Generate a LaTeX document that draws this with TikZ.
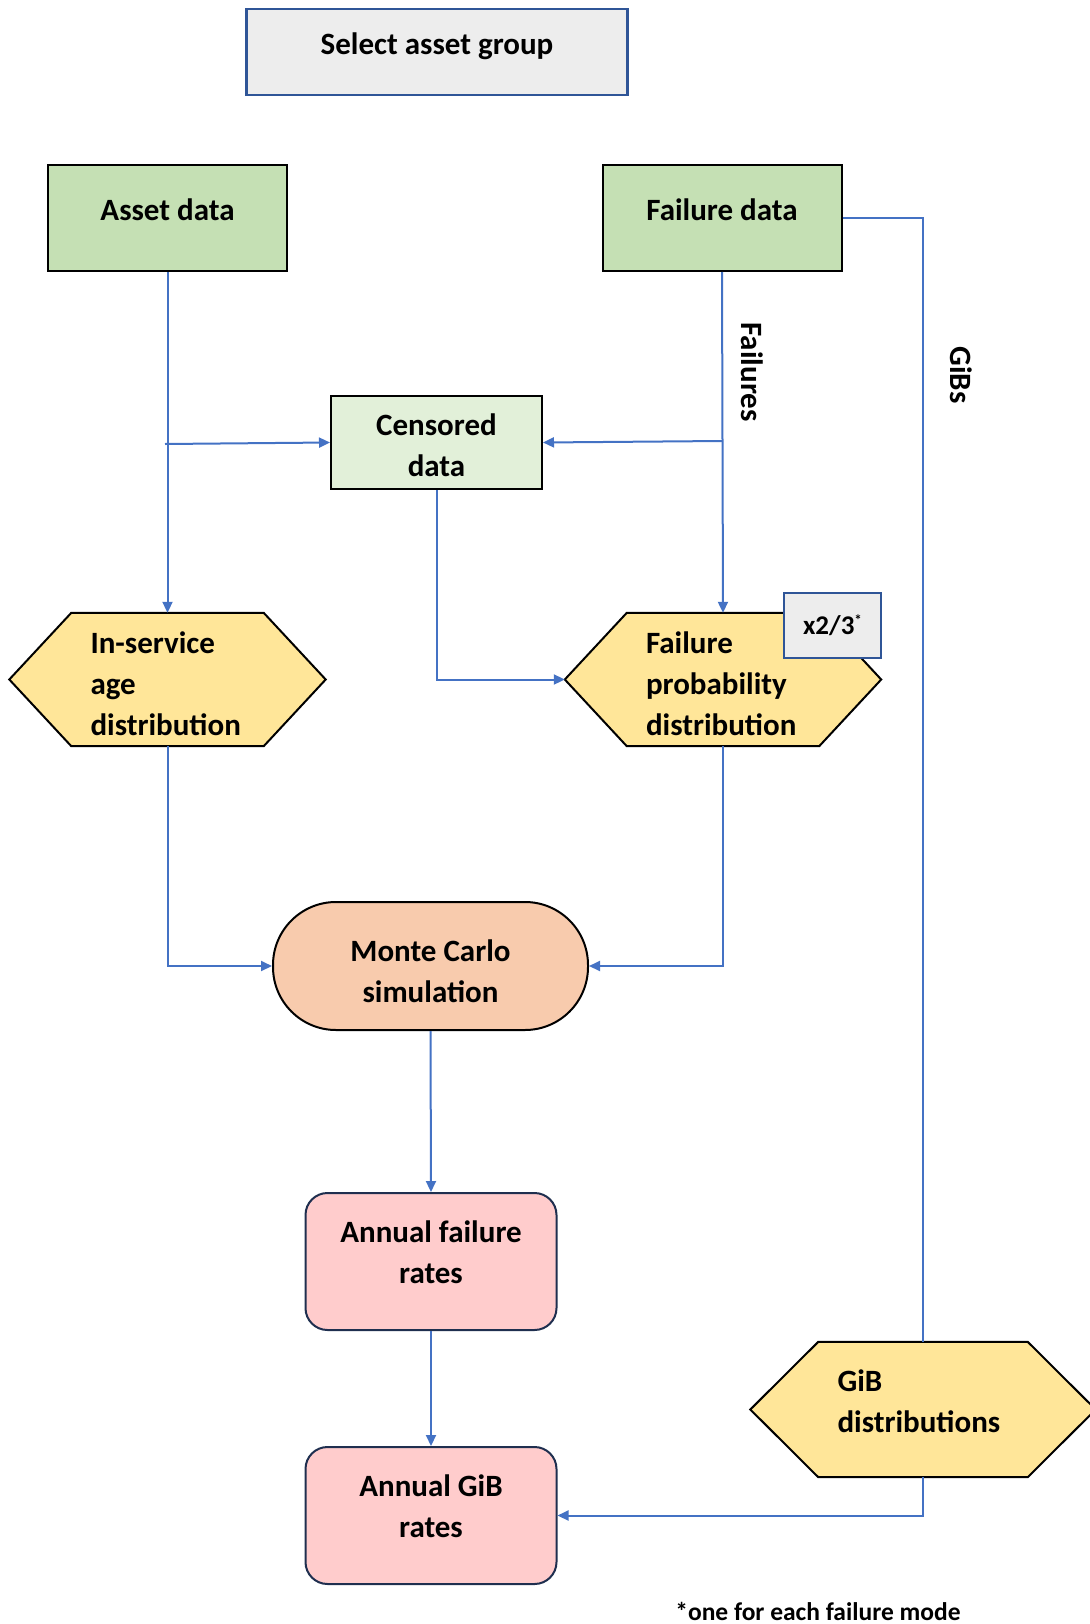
\documentclass[tikz,border=0pt]{standalone}
\usepackage{fontspec}
\setmainfont{Carlito}
\usetikzlibrary{arrows.meta,backgrounds}
\definecolor{lineblue}{HTML}{4472C4}
\definecolor{frameblue}{HTML}{2F5597}
\definecolor{greybox}{HTML}{EDEDED}
\definecolor{greenbox}{HTML}{C5E0B4}
\definecolor{lightgreen}{HTML}{E2F0D9}
\definecolor{hexyellow}{HTML}{FFE699}
\definecolor{peach}{HTML}{F8CBAD}
\definecolor{pinkbox}{HTML}{FFCCCC}
\definecolor{navy}{HTML}{1F2F4F}
\newcommand\hexdraw[2]{%
  \begin{scope}[on background layer]
    \draw[hexline] (#1.west) -- ([xshift=#2]#1.north west) -- ([xshift=-#2]#1.north east)
      -- (#1.east) -- ([xshift=-#2]#1.south east) -- ([xshift=#2]#1.south west) -- cycle;
  \end{scope}}
\begin{document}
\begin{tikzpicture}[x=1pt,y=-1pt,
  txt/.style={font=\fontsize{31}{41}\selectfont\bfseries,inner sep=0pt},
  box/.style={draw=black,line width=2pt,inner sep=0pt},
  greenrect/.style={box,fill=greenbox,minimum width=239pt,minimum height=106pt},
  hexnode/.style={inner sep=0pt,minimum height=133pt},
  hexline/.style={draw=black,line width=2pt,fill=hexyellow,line join=miter},
  pinkrect/.style={box,draw=navy,fill=pinkbox,rounded corners=22pt,minimum width=251pt,minimum height=137pt},
  conn/.style={lineblue,line width=2pt},
  arr/.style={conn,-{Triangle[length=11pt,width=10pt]}},
  lab/.style={txt,rotate=-90}]
\useasboundingbox (0,0) rectangle (1089,1624);

\node[box,draw=frameblue,line width=2.5pt,fill=greybox,minimum width=381pt,minimum height=86pt,
  label={[txt,yshift=6pt]center:Select asset group}] (select) at (437,52) {};

\node[greenrect,label={[txt,yshift=8pt]center:Asset data}] (asset) at (167.5,218) {};
\node[greenrect,label={[txt,yshift=8pt]center:Failure data}] (faildata) at (722,218) {};
\node[box,fill=lightgreen,minimum width=211pt,minimum height=93pt,
  label={[txt,align=center,yshift=-3pt]center:Censored\\data}] (cens) at (436.5,442.5) {};

\node[hexnode,minimum width=316pt,
  label={[txt,align=left,anchor=west,xshift=81pt,yshift=-4pt]west:In-service\\age\\distribution}] (insvc) at (167.5,679.5) {};
\hexdraw{insvc}{62pt}
\node[hexnode,minimum width=316pt,
  label={[txt,align=left,anchor=west,xshift=81pt,yshift=-4pt]west:Failure\\probability\\distribution}] (failprob) at (723,679.5) {};
\hexdraw{failprob}{62pt}
\node[hexnode,minimum width=345pt,minimum height=135pt,
  label={[txt,align=left,anchor=west,xshift=87pt,yshift=8pt]west:GiB\\distributions}] (gib) at (923,1409.5) {};
\hexdraw{gib}{68pt}

\node[box,draw=frameblue,line width=2.5pt,fill=greybox,minimum width=97pt,minimum height=65pt,font=\fontsize{27}{30}\selectfont\bfseries] (mult) at (832.5,625.5) {x2/3\raisebox{9pt}{\fontsize{15}{15}\selectfont*}};

\node[box,fill=peach,rounded corners=63pt,minimum width=315pt,minimum height=128pt,
  label={[txt,align=center,yshift=-5pt]center:Monte Carlo\\simulation}] (mc) at (430.5,966) {};
\node[pinkrect,label={[txt,align=center,yshift=9pt]center:Annual failure\\rates}] (afr) at (431,1261.5) {};
\node[pinkrect,label={[txt,align=center,yshift=9pt]center:Annual GiB\\rates}] (agr) at (431,1515.5) {};

\node[lab] (lfail) at (752,372) {Failures};
\node[lab] (lgib) at (961,375) {GiBs};
\node[font=\fontsize{25.5}{30}\selectfont\bfseries] (foot) at (818,1611) {*one for each failure mode};

\coordinate (a1) at (165,444);
\coordinate (f1) at (722,441);
\draw[arr] (asset.south) -- (insvc.north);
\draw[arr] (a1) -- (cens.west);
\draw[arr] (faildata.south) -- (failprob.north);
\draw[arr] (f1) -- (cens.east);
\draw[arr] (cens.south) |- (failprob.west);
\draw[arr] (insvc.south) |- (mc.west);
\draw[arr] (failprob.south) |- (mc.east);
\draw[arr] (mc.south) -- (afr.north);
\draw[arr] (afr.south) -- (agr.north);
\draw[conn] (faildata.east) -| (gib.north);
\draw[arr] (gib.south) |- (agr.east);
\end{tikzpicture}
\end{document}
